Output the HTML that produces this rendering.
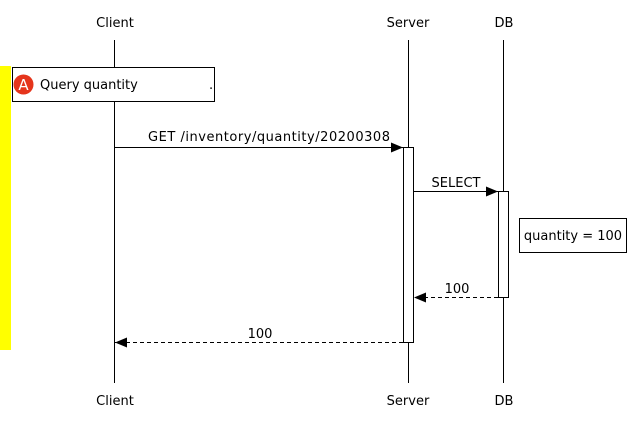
<!DOCTYPE html>
<html><head><style>html,body{margin:0;padding:0;background:#fff}</style></head>
<body>
<svg width="635" height="423" xmlns="http://www.w3.org/2000/svg" font-family="DejaVu Sans, sans-serif" font-size="13">
<defs>
<marker id="a" markerWidth="12" markerHeight="10" refX="12" refY="5" orient="auto" markerUnits="userSpaceOnUse"><path d="M0,0 L12,5 L0,10 z" fill="#000"/></marker>
</defs>
<rect x="0" y="66" width="11" height="284" fill="#ffff00"/>
<g stroke="#000" stroke-width="1">
<line x1="114.5" y1="40" x2="114.5" y2="383"/>
<line x1="408.5" y1="40" x2="408.5" y2="383"/>
<line x1="503.5" y1="40" x2="503.5" y2="383"/>
</g>
<g text-anchor="middle" fill="#000">
<text x="115" y="27">Client</text><text x="408" y="27">Server</text><text x="504" y="27">DB</text>
<text x="115" y="405">Client</text><text x="408" y="405">Server</text><text x="504" y="405">DB</text>
</g>
<rect x="12.5" y="67.5" width="202" height="34" fill="#fff" stroke="#000"/>
<circle cx="23.5" cy="84.5" r="10" fill="#e5351c"/>
<text x="23.5" y="90" text-anchor="middle" fill="#fff" font-size="15">A</text>
<text x="40" y="89">Query quantity</text>
<text x="209" y="89">.</text>
<rect x="403.5" y="147.5" width="10" height="195" fill="#fff" stroke="#000"/>
<rect x="498.5" y="191.5" width="10" height="106" fill="#fff" stroke="#000"/>
<line x1="114.5" y1="147.5" x2="403" y2="147.5" stroke="#000" marker-end="url(#a)"/>
<text x="148" y="141" textLength="242" lengthAdjust="spacing">GET /inventory/quantity/20200308</text>
<line x1="413.5" y1="191.5" x2="498" y2="191.5" stroke="#000" marker-end="url(#a)"/>
<text x="456" y="187" text-anchor="middle">SELECT</text>
<rect x="519.5" y="218.5" width="107" height="34" fill="#fff" stroke="#000"/>
<text x="573" y="240" text-anchor="middle">quantity = 100</text>
<line x1="498" y1="297.5" x2="414" y2="297.5" stroke="#000" stroke-dasharray="4,3" marker-end="url(#a)"/>
<text x="457" y="293" text-anchor="middle">100</text>
<line x1="403" y1="342.5" x2="115" y2="342.5" stroke="#000" stroke-dasharray="4,3" marker-end="url(#a)"/>
<text x="260" y="338" text-anchor="middle">100</text>
</svg>
</body></html>
